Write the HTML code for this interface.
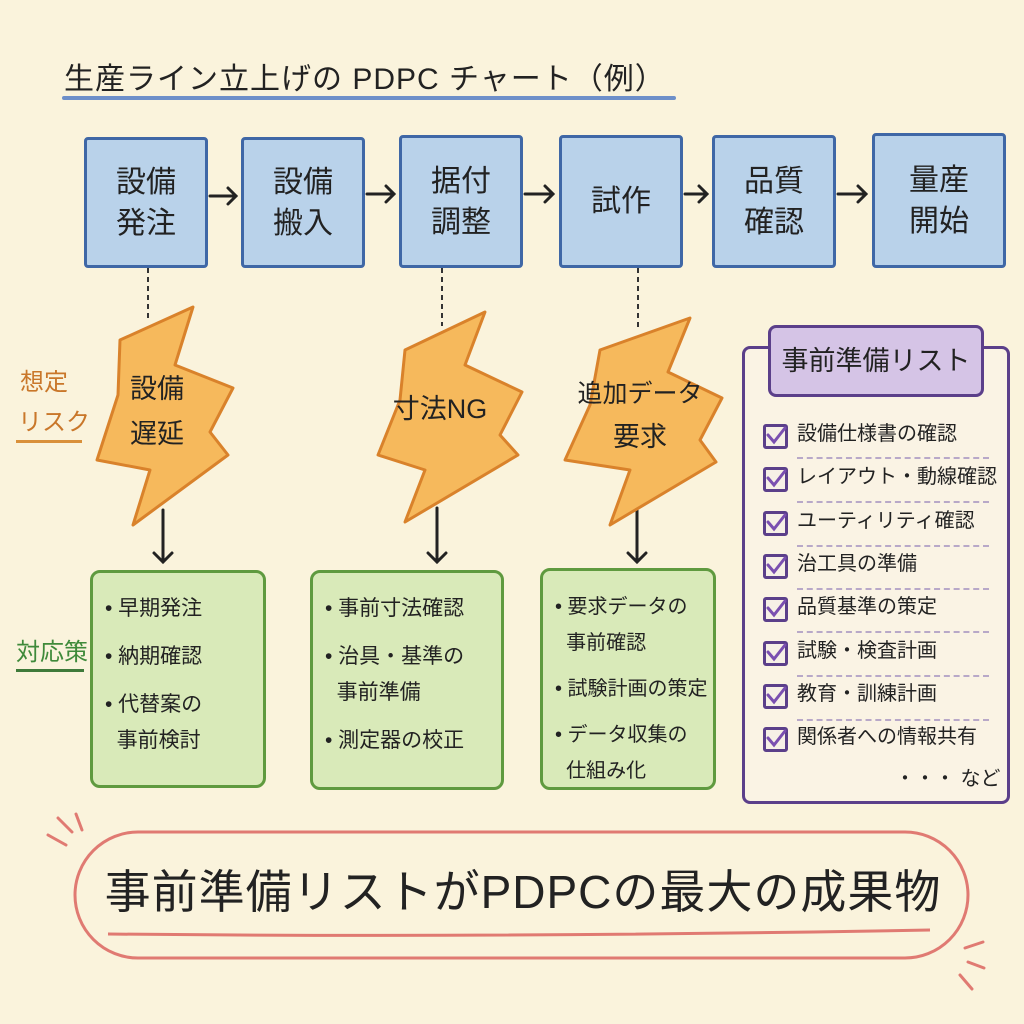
<!DOCTYPE html>
<html><head><meta charset="utf-8"><style>
body{margin:0;width:1024px;height:1024px;background:#faf3dc;position:relative;overflow:hidden;font-family:"Liberation Sans","Noto Sans CJK JP",sans-serif;color:#222}
.a{position:absolute}
.bx{position:absolute;background:#b9d2ea;border:3px solid #3f67a6;border-radius:4px;display:flex;align-items:center;justify-content:center;text-align:center;font-size:30px;line-height:41px;color:#222}
.gb{position:absolute;background:#d9eab9;border:3px solid #5f9a3f;border-radius:10px;font-size:21px;line-height:36px;box-sizing:border-box;padding:18px 0 0 12px}
.it{position:absolute;left:18px;font-size:20px;line-height:24px}
.cb{position:absolute;left:18px;width:19px;height:19px;border:3px solid #5b3f8a;border-radius:3px;background:#f6f0e6}
.dl{position:absolute;left:52px;right:18px;border-top:2px dashed #b8a8c8}
</style></head><body>
<div class="a" style="left:64px;top:54px;font-size:30px;letter-spacing:1px">生産ライン立上げの PDPC チャート（例）</div>
<div class="a" style="left:62px;top:96px;width:614px;height:4px;background:#6d8fc9;border-radius:2px"></div>

<div class="bx" style="left:84px;top:137px;width:118px;height:125px">設備<br>発注</div>
<div class="bx" style="left:241px;top:137px;width:118px;height:125px">設備<br>搬入</div>
<div class="bx" style="left:399px;top:135px;width:118px;height:127px">据付<br>調整</div>
<div class="bx" style="left:559px;top:135px;width:118px;height:127px">試作</div>
<div class="bx" style="left:712px;top:135px;width:118px;height:127px">品質<br>確認</div>
<div class="bx" style="left:872px;top:133px;width:128px;height:129px">量産<br>開始</div>

<svg class="a" style="left:0;top:0" width="1024" height="1024">
<g stroke="#222" stroke-width="3" fill="none" stroke-linecap="round">
<path d="M210 196h26M228 188l8 8-8 8"/><path d="M367 194h27M386 186l8 8-8 8"/><path d="M525 194h28M545 186l8 8-8 8"/><path d="M685 194h22M699 186l8 8-8 8"/><path d="M838 194h28M858 186l8 8-8 8"/>
<path d="M163 510v52M154 553l9 9 9-9"/><path d="M437 508v54M428 553l9 9 9-9"/><path d="M637 508v54M628 553l9 9 9-9"/>
</g>
<g stroke="#333" stroke-width="2" stroke-dasharray="5 4"><path d="M148 268v52"/><path d="M442 268v58"/><path d="M638 268v62"/></g>
<g fill="#f6b95c" stroke="#d9822b" stroke-width="3" stroke-linejoin="round">
<polygon points="120,340 193,307 175,365 233,388 210,432 228,455 133,525 150,470 97,460 118,395"/>
<polygon points="405,350 485,312 465,365 522,392 500,435 518,455 405,522 425,470 378,455 400,400"/>
<polygon points="600,350 690,318 668,372 722,398 700,440 716,462 610,525 630,470 565,460 590,405"/>
</g>
<g fill="#222" font-size="27" text-anchor="middle" font-family="Liberation Sans, Noto Sans CJK JP, sans-serif">
<text x="157" y="398">設備</text><text x="157" y="443">遅延</text>
<text x="440" y="418">寸法NG</text>
<text x="640" y="402" font-size="25">追加データ</text><text x="640" y="446">要求</text>
</g>
<g fill="#c9772a" font-size="24" font-family="Liberation Sans, Noto Sans CJK JP, sans-serif"><text x="20" y="390">想定</text><text x="18" y="430">リスク</text></g>
<rect x="16" y="440" width="66" height="3" fill="#d9903a"/>
<text x="16" y="660" fill="#3f8a3a" font-size="24" font-family="Liberation Sans, Noto Sans CJK JP, sans-serif">対応策</text>
<rect x="16" y="669" width="68" height="3" fill="#3f7a3a"/>
<rect x="75" y="832" width="893" height="126" rx="63" fill="none" stroke="#e07a72" stroke-width="3"/>
<path d="M108 934 Q500 938 930 930" stroke="#e07a72" stroke-width="3" fill="none"/>
<g stroke="#e07a72" stroke-width="3" stroke-linecap="round"><path d="M48 835l18 10M58 818l14 14M76 814l6 16M965 948l18-6M968 962l16 6M960 975l12 14"/></g>
</svg>

<div class="gb" style="left:90px;top:570px;width:176px;height:218px">• 早期発注<br><div style="margin-top:12px">• 納期確認</div><div style="margin-top:12px">• 代替案の<br>&nbsp;&nbsp;事前検討</div></div>
<div class="gb" style="left:310px;top:570px;width:194px;height:220px">• 事前寸法確認<br><div style="margin-top:12px">• 治具・基準の<br>&nbsp;&nbsp;事前準備</div><div style="margin-top:12px">• 測定器の校正</div></div>
<div class="gb" style="left:540px;top:568px;width:176px;height:222px;font-size:20px">• 要求データの<br>&nbsp;&nbsp;事前確認<br><div style="margin-top:10px">• 試験計画の策定</div><div style="margin-top:10px">• データ収集の<br>&nbsp;&nbsp;仕組み化</div></div>

<div class="a" style="left:742px;top:346px;width:262px;height:452px;border:3px solid #5b3f8a;border-radius:8px;background:#faf3e4">
<div class="cb" style="top:75px"></div><div class="it" style="left:52px;top:73px">設備仕様書の確認</div><div class="dl" style="top:108px"></div>
<div class="cb" style="top:118px"></div><div class="it" style="left:52px;top:116px">レイアウト・動線確認</div><div class="dl" style="top:152px"></div>
<div class="cb" style="top:162px"></div><div class="it" style="left:52px;top:160px">ユーティリティ確認</div><div class="dl" style="top:196px"></div>
<div class="cb" style="top:205px"></div><div class="it" style="left:52px;top:203px">治工具の準備</div><div class="dl" style="top:239px"></div>
<div class="cb" style="top:248px"></div><div class="it" style="left:52px;top:246px">品質基準の策定</div><div class="dl" style="top:282px"></div>
<div class="cb" style="top:292px"></div><div class="it" style="left:52px;top:290px">試験・検査計画</div><div class="dl" style="top:326px"></div>
<div class="cb" style="top:335px"></div><div class="it" style="left:52px;top:333px">教育・訓練計画</div><div class="dl" style="top:370px"></div>
<div class="cb" style="top:378px"></div><div class="it" style="left:52px;top:376px">関係者への情報共有</div>
<div class="it" style="left:150px;top:418px">・・・ など</div>
</div>
<svg class="a" style="left:742px;top:346px" width="270" height="460"><g stroke="#7a4fb0" stroke-width="3" fill="none" stroke-linecap="round"><path d="M26 89l6 7 11-14M26 132l6 7 11-14M26 176l6 7 11-14M26 219l6 7 11-14M26 262l6 7 11-14M26 306l6 7 11-14M26 349l6 7 11-14M26 392l6 7 11-14"/></g></svg>
<div class="a" style="left:768px;top:325px;width:210px;height:66px;background:#d5c4e6;border:3px solid #5b3f8a;border-radius:8px;font-size:27px;line-height:66px;text-align:center">事前準備リスト</div>

<div class="a" style="left:75px;top:860px;width:896px;text-align:center;font-size:46px;line-height:64px;letter-spacing:1px">事前準備リストがPDPCの最大の成果物</div>
</body></html>
